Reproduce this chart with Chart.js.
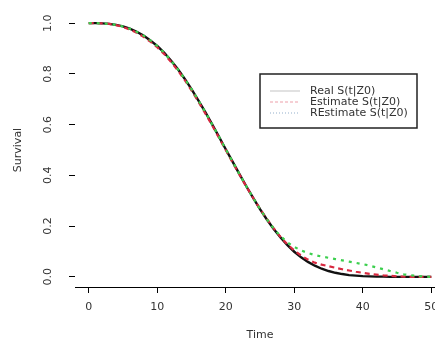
<!DOCTYPE html>
<html>
<head>
<meta charset="utf-8">
<script src="https://cdn.jsdelivr.net/npm/chart.js@4.4.1/dist/chart.umd.min.js"></script>
<style>
  html, body { margin:0; padding:0; background:#fff; overflow:hidden; }
  #wrap { width:435px; height:344px; overflow:hidden; position:relative; }
  canvas { display:block; }
</style>
</head>
<body>
<div id="wrap"><canvas id="c" width="450" height="344"></canvas></div>
<script>
const times = [0,1,2,3,4,5,6,7,8,9,10,11,12,13,14,15,16,17,18,19,20,21,22,23,24,25,26,27,28,29,30,31,32,33,34,35,36,37,38,39,40,41,42,43,44,45,46,47,48,49,50];
const realS = [1.000,1.000,0.999,0.997,0.993,0.987,0.978,0.966,0.951,0.932,0.910,0.884,0.853,0.819,0.781,0.740,0.696,0.650,0.602,0.553,0.503,0.454,0.405,0.357,0.311,0.267,0.226,0.189,0.155,0.125,0.099,0.077,0.059,0.044,0.032,0.023,0.016,0.011,0.007,0.005,0.003,0.002,0.001,0.001,0,0,0,0,0,0,0];
const estimateS = [1.000,1.000,0.999,0.997,0.992,0.985,0.975,0.962,0.946,0.927,0.905,0.879,0.848,0.814,0.776,0.735,0.691,0.645,0.598,0.549,0.500,0.451,0.403,0.356,0.311,0.268,0.228,0.191,0.157,0.128,0.104,0.084,0.068,0.056,0.048,0.042,0.036,0.030,0.025,0.020,0.016,0.012,0.009,0.006,0.004,0.002,0.001,0,0,0,0];
const reEstimateS = [1.000,1.000,0.999,0.997,0.993,0.987,0.978,0.966,0.951,0.932,0.910,0.884,0.853,0.819,0.781,0.740,0.696,0.650,0.602,0.553,0.503,0.454,0.405,0.357,0.311,0.267,0.227,0.191,0.160,0.136,0.118,0.104,0.094,0.086,0.080,0.075,0.070,0.065,0.060,0.055,0.050,0.044,0.037,0.030,0.023,0.016,0.010,0.006,0.003,0.001,0];
const seriesNames = ['Real S(t|Z0)', 'Estimate S(t|Z0)', 'REstimate S(t|Z0)'];
const xTicks = [0,10,20,30,40,50];
const yTicks = [0,0.2,0.4,0.6,0.8,1.0];
const yTickLabels = ['0.0','0.2','0.4','0.6','0.8','1.0'];

const FONT = '"DejaVu Sans", "Liberation Sans", Arial, sans-serif';
const TXT = '#333';
const colors = ['#111111', '#d8283f', '#3ccf4e'];
const dashes = [[], [5,4], [3,5]];

function pts(arr){ return times.map((t,i)=>({x:t, y:arr[i]})); }

const customDraw = {
  id: 'customDraw',
  afterDraw(chart) {
    const ctx = chart.ctx;
    const ys = chart.scales.y;
    ctx.save();
    ctx.fillStyle = TXT;
    ctx.font = '11px ' + FONT;
    ctx.textAlign = 'center';
    ctx.textBaseline = 'middle';
    yTicks.forEach((v, i) => {
      const py = ys.getPixelForValue(v);
      ctx.save();
      ctx.translate(48, py);
      ctx.rotate(-Math.PI / 2);
      ctx.fillText(yTickLabels[i], 0, 0);
      ctx.restore();
    });
    // legend box
    const bx = 260, by = 74, bw = 157, bh = 54;
    ctx.strokeStyle = '#222';
    ctx.lineWidth = 1.5;
    ctx.strokeRect(bx, by, bw, bh);
    const rows = [91, 102, 113];
    const legCols = ['rgba(120,120,120,0.45)', 'rgba(216,40,63,0.45)', 'rgba(60,110,160,0.55)'];
    rows.forEach((ry, i) => {
      ctx.beginPath();
      ctx.strokeStyle = legCols[i];
      ctx.lineWidth = 1;
      ctx.setLineDash(i === 0 ? [] : (i === 1 ? [3,2] : [1,2]));
      ctx.moveTo(270, ry);
      ctx.lineTo(300, ry);
      ctx.stroke();
      ctx.setLineDash([]);
      ctx.fillStyle = TXT;
      ctx.textAlign = 'left';
      ctx.fillText(seriesNames[i], 310, ry);
    });
    ctx.restore();
  }
};

new Chart(document.getElementById('c'), {
  type: 'line',
  data: {
    datasets: [
      { label: seriesNames[0], data: pts(realS), borderColor: colors[0], borderWidth: 2.4, borderDash: dashes[0], pointRadius: 0, tension: 0, order: 3 },
      { label: seriesNames[1], data: pts(estimateS), borderColor: colors[1], borderWidth: 2.2, borderDash: dashes[1], pointRadius: 0, tension: 0, order: 2 },
      { label: seriesNames[2], data: pts(reEstimateS), borderColor: colors[2], borderWidth: 2.2, borderDash: dashes[2], pointRadius: 0, tension: 0, order: 1 }
    ]
  },
  options: {
    responsive: false,
    animation: false,
    devicePixelRatio: 1,
    layout: { padding: { left: 0, right: 5, top: 13, bottom: 0 } },
    plugins: { legend: { display: false }, tooltip: { enabled: false } },
    scales: {
      x: {
        type: 'linear', min: -2, max: 52,
        afterBuildTicks: s => { s.ticks = xTicks.map(v => ({ value: v })); },
        afterFit: s => { s.height = 57; },
        grid: { display: true, drawOnChartArea: false, drawTicks: true, tickLength: 6, color: '#000', lineWidth: 1 },
        border: { display: true, color: '#000', width: 1 },
        ticks: { autoSkip: false, maxRotation: 0, minRotation: 0, padding: 8, color: TXT, font: { family: FONT, size: 11 } },
        title: { display: true, text: 'Time', color: TXT, font: { family: FONT, size: 11 }, padding: { top: 0, bottom: 2 } }
      },
      y: {
        type: 'linear', min: -0.04, max: 1.04,
        afterBuildTicks: s => { s.ticks = yTicks.map(v => ({ value: v })); },
        afterFit: s => { s.width = 75; },
        grid: { display: true, drawOnChartArea: false, drawTicks: true, tickLength: 6, color: '#000', lineWidth: 1 },
        border: { display: false },
        ticks: { display: false },
        title: { display: true, text: 'Survival', color: TXT, font: { family: FONT, size: 11 }, padding: { top: 12, bottom: 0 } }
      }
    }
  },
  plugins: [customDraw]
});
</script>
</body>
</html>
